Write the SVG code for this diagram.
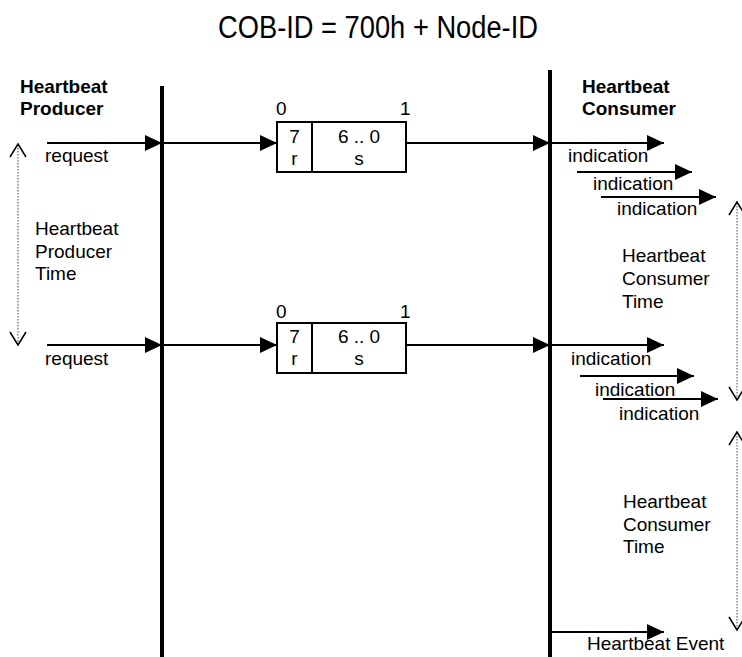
<svg xmlns="http://www.w3.org/2000/svg" width="742" height="657" viewBox="0 0 742 657">
<style>
text{font-family:"Liberation Sans",Arial,sans-serif;font-size:19px;fill:#000}
.b{font-weight:bold}
.m{text-anchor:middle}
.ln{stroke:#000;stroke-width:2;fill:none}
.ar{stroke:#000;stroke-width:2;fill:none;marker-end:url(#ah)}
.bar{stroke:#000;stroke-width:4}
.dot{stroke:#444;stroke-width:1;stroke-dasharray:1.5,1.5;fill:none}
.vh{stroke:#000;stroke-width:1.5;fill:none}
.box{stroke:#000;stroke-width:2;fill:#fff}
</style>
<defs>
<marker id="ah" markerUnits="userSpaceOnUse" markerWidth="17" markerHeight="16" refX="17" refY="8" orient="auto">
<path d="M0,0 L17,8 L0,16 z" fill="#000"/>
</marker>
</defs>
<rect width="742" height="657" fill="#fff"/>
<text id="title" x="218" y="38" textLength="320" lengthAdjust="spacingAndGlyphs" style="font-size:31px">COB-ID = 700h + Node-ID</text>
<g id="producer">
<line class="bar" x1="162" y1="86" x2="162" y2="657"/>
<text class="b" x="20" y="93">Heartbeat</text>
<text class="b" x="20" y="115">Producer</text>
</g>
<g id="consumer">
<line class="bar" x1="550" y1="70" x2="550" y2="657"/>
<text class="b" x="582" y="93">Heartbeat</text>
<text class="b" x="582" y="115">Consumer</text>
</g>
<g id="frame1">
<rect class="box" x="277" y="122" width="129" height="50"/>
<line class="ln" x1="312" y1="122" x2="312" y2="172"/>
<text x="276" y="115">0</text>
<text x="400" y="115">1</text>
<text class="m" x="294.5" y="143">7</text>
<text class="m" x="294.5" y="165">r</text>
<text class="m" x="359" y="143">6 .. 0</text>
<text class="m" x="359" y="165">s</text>
</g>
<g id="frame2">
<rect class="box" x="277" y="323" width="129" height="50"/>
<line class="ln" x1="312" y1="323" x2="312" y2="373"/>
<text x="276" y="318">0</text>
<text x="400" y="318">1</text>
<text class="m" x="294.5" y="343">7</text>
<text class="m" x="294.5" y="365">r</text>
<text class="m" x="359" y="343">6 .. 0</text>
<text class="m" x="359" y="365">s</text>
</g>
<g id="producer-time">
<text x="35" y="235">Heartbeat</text>
<text x="35" y="258">Producer</text>
<text x="35" y="280">Time</text>
</g>
<g id="consumer-time1">
<text x="622" y="262">Heartbeat</text>
<text x="622" y="285">Consumer</text>
<text x="622" y="308">Time</text>
</g>
<g id="consumer-time2">
<text x="623" y="508">Heartbeat</text>
<text x="623" y="531">Consumer</text>
<text x="623" y="553">Time</text>
</g>
<g id="connectors">
<line class="ar" x1="47" y1="143" x2="162" y2="143"/>
<line class="ar" x1="162" y1="143" x2="277" y2="143"/>
<line class="ar" x1="406" y1="143" x2="550" y2="143"/>
<line class="ar" x1="550" y1="143" x2="664" y2="143"/>
<line class="ar" x1="577" y1="172" x2="692" y2="172"/>
<line class="ar" x1="601" y1="197" x2="716" y2="197"/>
<line class="ar" x1="47" y1="345" x2="162" y2="345"/>
<line class="ar" x1="162" y1="345" x2="277" y2="345"/>
<line class="ar" x1="406" y1="345" x2="550" y2="345"/>
<line class="ar" x1="550" y1="345" x2="664" y2="345"/>
<line class="ar" x1="580" y1="376" x2="694" y2="376"/>
<line class="ar" x1="603" y1="399" x2="718" y2="399"/>
<line class="ar" x1="550" y1="632" x2="664" y2="632"/>
<line class="dot" x1="18" y1="145" x2="18" y2="344"/>
<polyline class="vh" points="10,157 18,144 26,157"/>
<polyline class="vh" points="10,332 18,345 26,332"/>
<line class="dot" x1="737" y1="203" x2="737" y2="399"/>
<polyline class="vh" points="729,215 737,202 745,215"/>
<polyline class="vh" points="729,387 737,400 745,387"/>
<line class="dot" x1="737" y1="433" x2="737" y2="629"/>
<polyline class="vh" points="729,445 737,432 745,445"/>
<polyline class="vh" points="729,617 737,630 745,617"/>
<text x="45" y="162">request</text>
<text x="45" y="365">request</text>
<text x="568" y="162">indication</text>
<text x="593" y="190">indication</text>
<text x="617" y="215">indication</text>
<text x="571" y="365">indication</text>
<text x="595" y="396">indication</text>
<text x="619" y="420">indication</text>
<text x="587" y="650">Heartbeat Event</text>
</g>
</svg>
